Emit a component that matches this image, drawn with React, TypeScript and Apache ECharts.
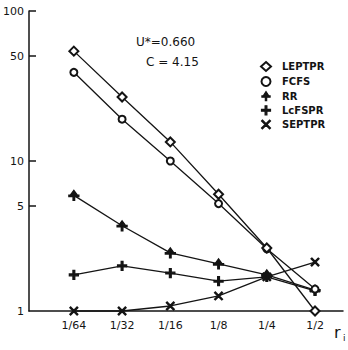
import React, { useEffect, useRef } from 'react';
import * as echarts from 'echarts';

const categories = ['1/64', '1/32', '1/16', '1/8', '1/4', '1/2'];
const leptpr = [54, 26.7, 13.4, 6.0, 2.63, 1.0];
const fcfs = [39, 19, 10, 5.2, 2.6, 1.4];
const rr = [5.9, 3.7, 2.44, 2.06, 1.74, 1.38];
const lcfspr = [1.74, 2.0, 1.79, 1.58, 1.69, 1.36];
const septpr = [1.0, 1.0, 1.08, 1.26, 1.69, 2.12];
const seriesNames = ['LEPTPR', 'FCFS', 'RR', 'LcFSPR', 'SEPTPR'];
const yTickValues = [5, 10, 50, 100];
const yLabelValues = [1, 5, 10, 50, 100];

const FONT = '"DejaVu Sans", sans-serif';
const INK = '#141414';

const PLUS = 'path://M4,0 H6 V4 H10 V6 H6 V10 H4 V6 H0 V4 H4 Z';
const CROSS = 'path://M1,0 L5,4 L9,0 L10,1 L6,5 L10,9 L9,10 L5,6 L1,10 L0,9 L4,5 L0,1 Z';
const ARROW = 'path://M5,0 L8,4.5 L5.8,4.5 V5.2 H10 V6.8 H5.8 V11 H4.2 V6.8 H0 V5.2 H4.2 V4.5 H2 Z';

const symbols = ['emptyDiamond', 'emptyCircle', ARROW, PLUS, CROSS];
const sizes = [9, 7, 10, 9, 8];

export default function App() {
  const ref = useRef<HTMLDivElement>(null);
  useEffect(() => {
    if (!ref.current) return;
    const chart = echarts.init(ref.current, null, { renderer: 'svg' });
    const all = [leptpr, fcfs, rr, lcfspr, septpr];
    chart.setOption({
      animation: false,
      backgroundColor: '#fff',
      grid: { left: 27, top: 11, right: 5, bottom: 39 },
      xAxis: {
        type: 'value',
        min: -0.93,
        max: 5.58,
        axisLine: { show: true, onZero: false, lineStyle: { color: INK, width: 1.5 } },
        axisTick: { show: false },
        splitLine: { show: false },
        axisLabel: {
          customValues: categories.map((_, i) => i),
          formatter: (v: number) => categories[Math.round(v)] ?? '',
          color: INK,
          fontFamily: FONT,
          fontSize: 11,
          margin: 9,
        },
      },
      yAxis: {
        type: 'log',
        logBase: 10,
        min: 1,
        max: 100,
        axisLine: { show: true, onZero: false, lineStyle: { color: INK, width: 1.5 } },
        axisTick: { show: true, inside: true, length: 7, customValues: yTickValues, lineStyle: { color: INK, width: 1.5 } },
        splitLine: { show: false },
        minorTick: { show: false },
        axisLabel: {
          customValues: yLabelValues,
          color: INK,
          fontFamily: FONT,
          fontSize: 11,
          margin: 5,
        },
      },
      legend: {
        orient: 'vertical',
        left: 255,
        top: 56,
        itemWidth: 10,
        itemHeight: 9,
        itemGap: 4,
        selectedMode: false,
        lineStyle: { width: 0, opacity: 0 },
        itemStyle: { borderWidth: 1.2 },
        textStyle: { color: INK, fontFamily: FONT, fontSize: 10, fontWeight: 'bold', padding: [0, 0, 0, 6] },
        data: seriesNames.map((n, i) => ({ name: n, icon: symbols[i] })),
      },
      graphic: [
        { type: 'text', left: 136, top: 36, style: { text: 'U*=0.660', fill: INK, font: `12px ${FONT}` } },
        { type: 'text', left: 146, top: 56, style: { text: 'C = 4.15', fill: INK, font: `12px ${FONT}` } },
        { type: 'text', left: 334, top: 324, style: { text: 'r', fill: INK, font: `16px ${FONT}` } },
        { type: 'text', left: 343, top: 333, style: { text: 'i', fill: INK, font: `9px ${FONT}` } },
      ],
      series: all.map((arr, i) => ({
        name: seriesNames[i],
        type: 'line',
        data: arr.map((v, j) => [j, v]),
        symbol: symbols[i],
        symbolSize: sizes[i],
        showAllSymbol: true,
        clip: false,
        lineStyle: { color: INK, width: 1.3 },
        itemStyle: { color: INK, borderColor: INK, borderWidth: 1.3 },
        z: 5 - i,
      })),
    });
    return () => chart.dispose();
  }, []);
  return <div ref={ref} style={{ position: 'absolute', left: 0, top: 0, width: 348, height: 350 }} />;
}
